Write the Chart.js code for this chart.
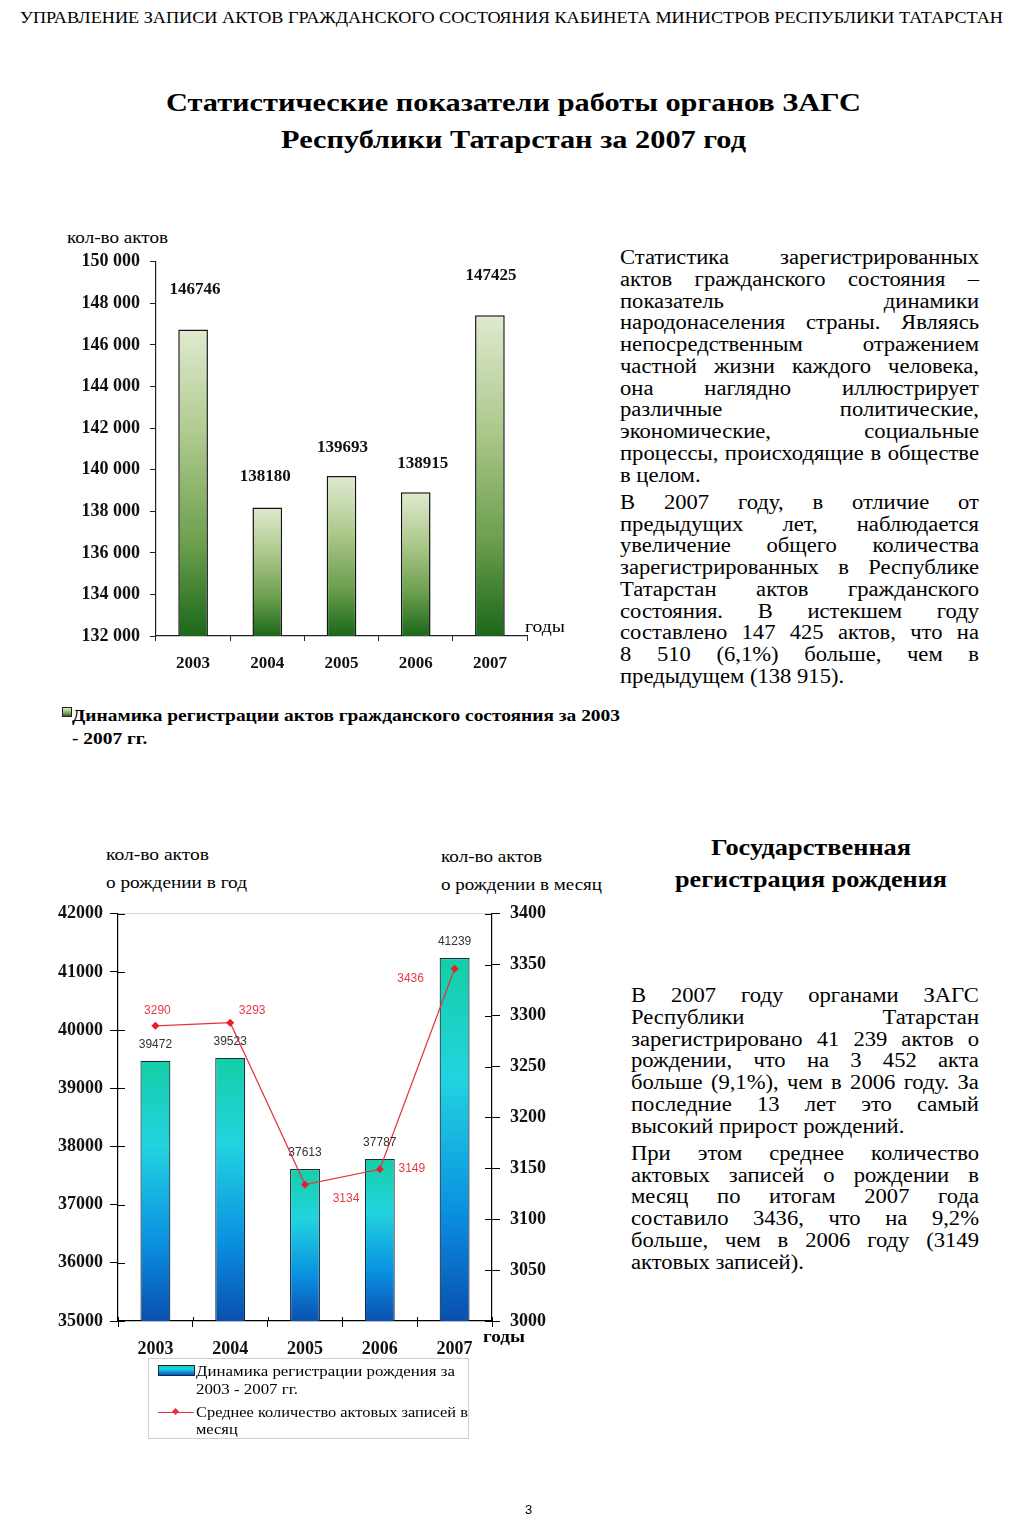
<!DOCTYPE html>
<html lang="ru">
<head>
<meta charset="utf-8">
<title>ЗАГС РТ 2007</title>
<script src="https://cdn.jsdelivr.net/npm/chart.js@4.4.1/dist/chart.umd.min.js"></script>
<style>
  html, body { margin: 0; padding: 0; background: #fff; }
  body { width: 1024px; height: 1526px; position: relative; overflow: hidden; font-family: "Liberation Serif", serif; color: #000; }
  .abs { position: absolute; }
  .fit { display: inline-block; white-space: nowrap; transform-origin: 0 50%; }
  .fit > div { white-space: nowrap; }
  .para { position: absolute; font-size: 20px; line-height: 21.75px; transform-origin: 0 0; }
  .para div { white-space: nowrap; height: 21.75px; }
  .para div.j { display: flex; justify-content: space-between; }
  .para div.gap { height: 5.5px; }
  canvas { position: absolute; }
</style>
</head>
<body>

<!-- header -->
<div class="abs" style="left:20px; top:8px; font-size:17px; line-height:20px;">
  <span class="fit" data-w="983">УПРАВЛЕНИЕ ЗАПИСИ АКТОВ ГРАЖДАНСКОГО СОСТОЯНИЯ КАБИНЕТА МИНИСТРОВ РЕСПУБЛИКИ ТАТАРСТАН</span>
</div>

<!-- title -->
<div class="abs" style="left:166px; top:88px; font-size:26px; line-height:30px; font-weight:bold;">
  <span class="fit" data-w="695">Статистические показатели работы органов ЗАГС</span>
</div>
<div class="abs" style="left:281px; top:125px; font-size:26px; line-height:30px; font-weight:bold;">
  <span class="fit" data-w="465">Республики Татарстан за 2007 год</span>
</div>

<!-- chart 1 -->
<div class="abs" style="left:67px; top:228px; font-size:16px; line-height:20px;">
  <span class="fit" data-w="101">кол-во актов</span>
</div>
<canvas id="c1" width="500" height="435" style="left:40px; top:241px; width:500px; height:435px;"></canvas>
<div class="abs" style="left:525px; top:617px; font-size:16px; line-height:20px;">
  <span class="fit" data-w="40">годы</span>
</div>

<div class="abs" id="legend1" style="left:58px; top:704px;">
  <div class="abs" id="lg1icon" style="left:4px; top:3px; width:8px; height:8px; border:1px solid #222;"></div>
  <div class="abs" style="left:14px; top:0px; font-size:17px; line-height:23px; font-weight:bold;">
    <span class="fit" data-w="548" id="lg1text"></span>
  </div>
</div>

<!-- right paragraph 1 -->
<div class="para" data-w="359" style="left:620px; top:247px;">
  <div class="j">Статистика зарегистрированных</div>
  <div class="j">актов гражданского состояния –</div>
  <div class="j">показатель динамики</div>
  <div class="j">народонаселения страны. Являясь</div>
  <div class="j">непосредственным отражением</div>
  <div class="j">частной жизни каждого человека,</div>
  <div class="j">она наглядно иллюстрирует</div>
  <div class="j">различные политические,</div>
  <div class="j">экономические, социальные</div>
  <div class="j">процессы, происходящие в обществе</div>
  <div>в целом.</div>
  <div class="gap"></div>
  <div class="j">В 2007 году, в отличие от</div>
  <div class="j">предыдущих лет, наблюдается</div>
  <div class="j">увеличение общего количества</div>
  <div class="j">зарегистрированных в Республике</div>
  <div class="j">Татарстан актов гражданского</div>
  <div class="j">состояния. В истекшем году</div>
  <div class="j">составлено 147 425 актов, что на</div>
  <div class="j">8 510 (6,1%) больше, чем в</div>
  <div>предыдущем (138 915).</div>
</div>

<!-- section 2 heading -->
<div class="abs" style="left:711px; top:834px; font-size:23px; line-height:28px; font-weight:bold;">
  <span class="fit" data-w="200">Государственная</span>
</div>
<div class="abs" style="left:675px; top:866px; font-size:23px; line-height:28px; font-weight:bold;">
  <span class="fit" data-w="272">регистрация рождения</span>
</div>

<div class="para" data-w="348" style="left:631px; top:985px;">
  <div class="j">В 2007 году органами ЗАГС</div>
  <div class="j">Республики Татарстан</div>
  <div class="j">зарегистрировано 41 239 актов о</div>
  <div class="j">рождении, что на 3 452 акта</div>
  <div class="j">больше (9,1%), чем в 2006 году. За</div>
  <div class="j">последние 13 лет это самый</div>
  <div>высокий прирост рождений.</div>
  <div class="gap"></div>
  <div class="j">При этом среднее количество</div>
  <div class="j">актовых записей о рождении в</div>
  <div class="j">месяц по итогам 2007 года</div>
  <div class="j">составило 3436, что на 9,2%</div>
  <div class="j">больше, чем в 2006 году (3149</div>
  <div>актовых записей).</div>
</div>

<!-- chart 2 -->
<div class="abs" style="left:106px; top:845px; font-size:16px; line-height:20px;">
  <span class="fit" data-w="103">кол-во актов</span>
</div>
<div class="abs" style="left:106px; top:873px; font-size:16px; line-height:20px;">
  <span class="fit" data-w="141">о рождении в год</span>
</div>
<div class="abs" style="left:441px; top:847px; font-size:16px; line-height:20px;">
  <span class="fit" data-w="101">кол-во актов</span>
</div>
<div class="abs" style="left:441px; top:875px; font-size:16px; line-height:20px;">
  <span class="fit" data-w="161">о рождении в месяц</span>
</div>
<canvas id="c2" width="520" height="468" style="left:40px; top:893px; width:520px; height:468px;"></canvas>
<div class="abs" style="left:483px; top:1327px; font-size:17px; line-height:20px; font-weight:bold;">
  <span class="fit" data-w="42">годы</span>
</div>

<div class="abs" id="legend2" style="left:148px; top:1358px; width:321px; height:81px; border:1px solid #cfcfcf; box-sizing:border-box;">
  <div class="abs" id="lg2icon1" style="left:9px; top:6px; width:35px; height:9px; border:1px solid #1a2a3a;"></div>
  <div class="abs" style="left:47px; top:3px; font-size:15px; line-height:18px;">
    <span class="fit" data-w="259" id="lg2text1"></span>
  </div>
  <div class="abs" style="left:9px; top:53px; width:36px; height:1px; background:#e8303a;"></div>
  <div class="abs" style="left:24px; top:50px; width:5px; height:5px; background:#e8303a; transform:rotate(45deg);"></div>
  <div class="abs" style="left:47px; top:45px; font-size:15px; line-height:17px;">
    <span class="fit" data-w="272" id="lg2text2"></span>
  </div>
</div>

<div class="abs" style="left:525px; top:1502px; font-family:'Liberation Sans',sans-serif; font-size:13px;">3</div>

<script>
// ---------- data ----------
const years = ['2003', '2004', '2005', '2006', '2007'];
const actsTotal = [146746, 138180, 139693, 138915, 147425];
const actsLabel = 'Динамика регистрации актов гражданского состояния  за 2003\n - 2007 гг.';

const births = [39472, 39523, 37613, 37787, 41239];
const birthsPerMonth = [3290, 3293, 3134, 3149, 3346];
const birthsPerMonthText = ['3290', '3293', '3134', '3149', '3436'];
const birthsLabel = 'Динамика регистрации рождения  за\n2003 - 2007 гг.';
const perMonthLabel = 'Среднее количество актовых записей в\nмесяц';

// ---------- styles ----------
const serif = '"Liberation Serif", "Times New Roman", serif';
const sans = '"Liberation Sans", Arial, sans-serif';
const greenStops = [[0, '#dfeacf'], [0.35, '#aec98d'], [0.7, '#6b9f4d'], [1, '#1b671a']];
const blueStops = [[0, '#14cfa6'], [0.33, '#22d3e0'], [0.7, '#0a90e0'], [1, '#0a4fb0']];
const lbl1Offsets = { dx: [2, -2, 1, 7, 1], dy: [-40, -31, -28, -29, -40] };
const lbl2LineOffsets = { dx: [2, 22, 41, 32, -44], dy: [-15, -12, 14, -1, 10] };
const tickFont = { family: serif, size: 18, weight: 'bold' };
const catFont = { family: serif, size: 17, weight: 'bold' };

function gradientFill(stops, fallback) {
  return function (ctx) {
    const chart = ctx.chart;
    const area = chart.chartArea;
    if (!area || ctx.raw === undefined) return fallback;
    const yScale = chart.scales[ctx.dataset.yAxisID || 'y'];
    const top = yScale.getPixelForValue(ctx.raw);
    const g = chart.ctx.createLinearGradient(0, top, 0, area.bottom);
    stops.forEach(s => g.addColorStop(s[0], s[1]));
    return g;
  };
}
function cssGradient(stops) {
  return 'linear-gradient(to bottom,' + stops.map(s => s[1] + ' ' + (s[0] * 100) + '%').join(',') + ')';
}
function fmtSpace(v) {
  return String(v).replace(/\B(?=(\d{3})+(?!\d))/g, ' ');
}

// ---------- chart 1 ----------
const labels1Plugin = {
  id: 'labels1',
  afterDatasetsDraw(chart) {
    const c = chart.ctx;
    const meta = chart.getDatasetMeta(0);
    c.save();
    c.font = 'bold 17px ' + serif;
    c.fillStyle = '#111';
    c.textAlign = 'center';
    c.textBaseline = 'middle';
    meta.data.forEach((el, i) => {
      c.fillText(String(actsTotal[i]), el.x + lbl1Offsets.dx[i], el.y + lbl1Offsets.dy[i]);
    });
    c.restore();
  }
};

new Chart(document.getElementById('c1'), {
  type: 'bar',
  data: {
    labels: years,
    datasets: [{
      label: actsLabel,
      data: actsTotal,
      yAxisID: 'y',
      backgroundColor: gradientFill(greenStops, '#8fb56e'),
      borderColor: '#151515',
      borderWidth: 1.5,
      borderSkipped: 'bottom',
      barPercentage: 0.4,
      categoryPercentage: 1.0
    }]
  },
  options: {
    responsive: false,
    animation: false,
    devicePixelRatio: 1,
    layout: { padding: { top: 0, right: 13, left: 0, bottom: 0 } },
    plugins: { legend: { display: false }, tooltip: { enabled: false } },
    scales: {
      x: {
        offset: true,
        border: { color: '#222', width: 1.2 },
        grid: { drawOnChartArea: false, color: '#222', tickLength: 5, offset: true },
        ticks: { font: catFont, color: '#111', padding: 12 },
        afterFit(s) { s.height = 40; }
      },
      y: {
        min: 132000, max: 150000,
        border: { color: '#222', width: 1.2 },
        grid: { drawOnChartArea: false, color: '#222', tickLength: 6 },
        ticks: {
          stepSize: 2000,
          font: tickFont, color: '#111', padding: 10,
          callback: v => fmtSpace(v)
        },
        afterFit(s) { s.width = 116; }
      }
    }
  },
  plugins: [labels1Plugin]
});

// ---------- chart 2 ----------
const labels2Plugin = {
  id: 'labels2',
  afterDatasetsDraw(chart) {
    const c = chart.ctx;
    c.save();
    c.textAlign = 'center';
    c.textBaseline = 'middle';
    c.font = '12px ' + sans;
    c.fillStyle = '#333';
    chart.getDatasetMeta(0).data.forEach((el, i) => {
      c.fillText(String(births[i]), el.x, el.y - 16);
    });
    c.fillStyle = '#e8384a';
    chart.getDatasetMeta(1).data.forEach((el, i) => {
      c.fillText(birthsPerMonthText[i], el.x + lbl2LineOffsets.dx[i], el.y + lbl2LineOffsets.dy[i]);
    });
    c.restore();
  }
};
const innerTicksPlugin = {
  id: 'innerTicks',
  afterDraw(chart) {
    const c = chart.ctx;
    const a = chart.chartArea;
    c.save();
    c.strokeStyle = '#000';
    c.lineWidth = 1;
    c.beginPath();
    const yl = chart.scales.yL;
    yl.ticks.forEach((t, i) => { const y = Math.round(yl.getPixelForTick(i)) + 0.5; c.moveTo(a.left, y); c.lineTo(a.left + 7, y); });
    const yr = chart.scales.yR;
    yr.ticks.forEach((t, i) => { const y = Math.round(yr.getPixelForTick(i)) + 0.5; c.moveTo(a.right - 7, y); c.lineTo(a.right, y); });
    const xs = chart.scales.x;
    const n = xs.ticks.length;
    for (let i = 0; i <= n; i++) {
      const x = Math.round(xs.left + i * xs.width / n) + 0.5;
      c.moveTo(x, a.bottom - 4); c.lineTo(x, a.bottom);
    }
    c.stroke();
    c.restore();
  }
};

new Chart(document.getElementById('c2'), {
  type: 'bar',
  data: {
    labels: years,
    datasets: [{
      type: 'bar',
      label: birthsLabel,
      data: births,
      yAxisID: 'yL',
      order: 2,
      backgroundColor: gradientFill(blueStops, '#20b0e0'),
      borderColor: '#1a2a3a',
      borderWidth: 1.2,
      borderSkipped: 'bottom',
      barPercentage: 0.4,
      categoryPercentage: 1.0
    }, {
      type: 'line',
      label: perMonthLabel,
      data: birthsPerMonth,
      yAxisID: 'yR',
      order: 1,
      borderColor: '#e8303a',
      borderWidth: 1.2,
      pointStyle: 'rectRot',
      pointRadius: 3.2,
      pointBackgroundColor: '#e8202a',
      pointBorderColor: '#e8202a',
      tension: 0,
      fill: false
    }]
  },
  options: {
    responsive: false,
    animation: false,
    devicePixelRatio: 1,
    layout: { padding: { top: 0, right: 0, left: 0, bottom: 0 } },
    plugins: { legend: { display: false }, tooltip: { enabled: false } },
    scales: {
      x: {
        offset: true,
        border: { color: '#000', width: 1.2 },
        grid: { drawOnChartArea: false, color: '#000', tickLength: 6, offset: true },
        ticks: { font: tickFont, color: '#111', padding: 12 },
        afterFit(s) { s.height = 40; }
      },
      yL: {
        position: 'left',
        min: 35000, max: 42000,
        border: { color: '#000', width: 1.2 },
        grid: {
          drawOnChartArea: true, tickLength: 8, tickColor: '#000',
          color: ctx => (ctx.tick && ctx.tick.value === 42000) ? '#d6d6d6' : 'rgba(0,0,0,0)'
        },
        ticks: { stepSize: 1000, font: tickFont, color: '#111', padding: 7, callback: v => String(v) },
        afterFit(s) { s.width = 78; }
      },
      yR: {
        position: 'right',
        min: 3000, max: 3400,
        border: { color: '#000', width: 1.2 },
        grid: { drawOnChartArea: false, color: '#000', tickLength: 8 },
        ticks: { stepSize: 50, font: tickFont, color: '#111', padding: 10, callback: v => String(v) },
        afterFit(s) { s.width = 68; }
      }
    }
  },
  plugins: [labels2Plugin, innerTicksPlugin]
});

// ---------- html legends ----------
function fillLines(el, text) {
  text.split('\n').forEach(line => {
    const d = document.createElement('div');
    d.textContent = line;
    el.appendChild(d);
  });
}
fillLines(document.getElementById('lg1text'), actsLabel);
fillLines(document.getElementById('lg2text1'), birthsLabel);
fillLines(document.getElementById('lg2text2'), perMonthLabel);
document.getElementById('lg1icon').style.background = cssGradient(greenStops);
document.getElementById('lg2icon1').style.background = cssGradient(blueStops);

// justified paragraph lines: words spread with flex
document.querySelectorAll('.para div.j').forEach(d => {
  const words = d.textContent.trim().split(/\s+/);
  d.textContent = '';
  words.forEach(w => { const s = document.createElement('span'); s.textContent = w; d.appendChild(s); });
});
const PARA_SCALE = 1.13;
document.querySelectorAll('.para').forEach(p => {
  const w = parseFloat(p.dataset.w);
  p.style.width = (w / PARA_SCALE) + 'px';
  p.style.transform = 'scaleX(' + PARA_SCALE + ')';
});

function fitAll() {
  document.querySelectorAll('.fit').forEach(el => {
    el.style.transform = 'none';
    let w = el.getBoundingClientRect().width;
    if (el.children.length) {
      w = 0;
      el.querySelectorAll('div').forEach(d => {
        const r = document.createRange(); r.selectNodeContents(d);
        w = Math.max(w, r.getBoundingClientRect().width);
      });
    }
    const target = parseFloat(el.dataset.w);
    if (w > 0 && target) el.style.transform = 'scaleX(' + (target / w) + ')';
  });
}
fitAll();
if (document.fonts && document.fonts.ready) document.fonts.ready.then(fitAll);
</script>
</body>
</html>
